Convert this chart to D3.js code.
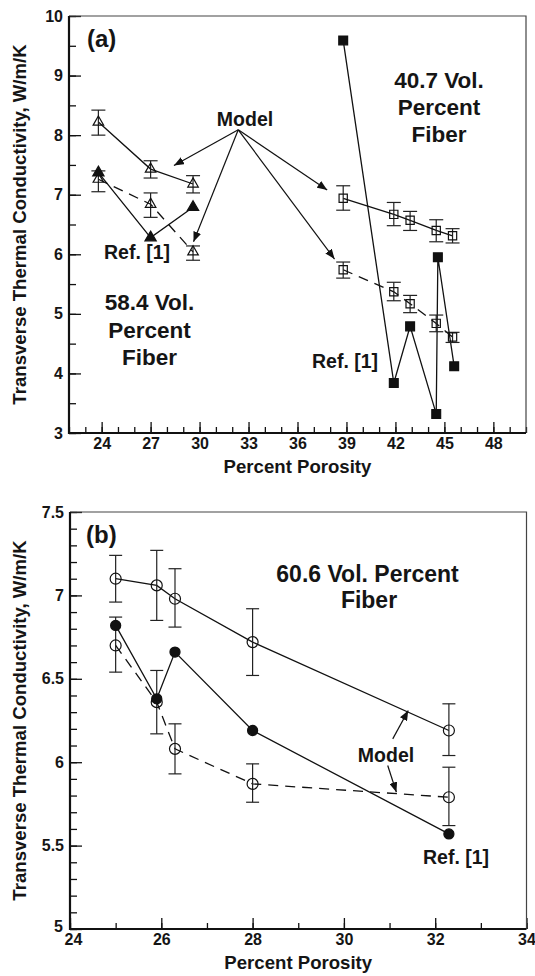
<!DOCTYPE html>
<html>
<head>
<meta charset="utf-8">
<script src="https://cdn.jsdelivr.net/npm/d3@7"></script>
<style>
  body { margin: 0; background: #fff; }
  text { font-family: "Liberation Sans", Arial, Helvetica, sans-serif; font-weight: bold; fill: #151515; }
</style>
</head>
<body>
<svg width="535" height="976"></svg>
<script>
// ---- panel (a): 58.4 vol. percent fiber
const poroA1 = [23.8, 27.0, 29.6];
const modelA1 = [8.22, 7.43, 7.18];
const modelA1Lo = [8.00, 7.28, 7.03];
const modelA1Hi = [8.42, 7.57, 7.32];
const modelA1d = [7.26, 6.84, 6.04];
const modelA1dLo = [7.05, 6.62, 5.90];
const modelA1dHi = [7.40, 7.03, 6.14];
const refA1 = [7.37, 6.28, 6.79];

// ---- panel (a): 40.7 vol. percent fiber
const poroA2 = [38.8, 41.9, 42.9, 44.5, 45.5];
const modelA2 = [6.94, 6.67, 6.57, 6.40, 6.31];
const modelA2Lo = [6.74, 6.48, 6.40, 6.21, 6.19];
const modelA2Hi = [7.15, 6.87, 6.72, 6.58, 6.43];
const modelA2d = [5.74, 5.37, 5.17, 4.84, 4.61];
const modelA2dLo = [5.60, 5.22, 5.02, 4.70, 4.52];
const modelA2dHi = [5.87, 5.53, 5.31, 4.98, 4.69];
const poroRefA2 = [38.8, 41.9, 42.9, 44.5, 44.6, 45.6];
const refA2 = [9.59, 3.84, 4.79, 3.32, 5.95, 4.12];

// ---- panel (b): 60.6 vol. percent fiber
const poroB = [25.0, 25.9, 26.3, 28.0, 32.3];
const modelB = [7.10, 7.06, 6.98, 6.72, 6.19];
const modelBLo = [6.96, 6.85, 6.81, 6.52, 6.04];
const modelBHi = [7.24, 7.27, 7.16, 6.92, 6.35];
const modelBd = [6.70, 6.36, 6.08, 5.87, 5.79];
const modelBdLo = [6.54, 6.17, 5.93, 5.76, 5.62];
const modelBdHi = [6.87, 6.55, 6.23, 5.99, 5.97];
const refB = [6.82, 6.38, 6.66, 6.19, 5.57];

// ticks
const xTicksA = [24, 27, 30, 33, 36, 39, 42, 45, 48];
const xMinorA = d3.range(22, 51, 1);
const yTicksA = [3, 4, 5, 6, 7, 8, 9, 10];
const yMinorA = d3.range(3, 10.01, 0.5);
const xTicksB = [24, 26, 28, 30, 32, 34];
const xMinorB = d3.range(24, 35, 1);
const yTicksB = [5, 5.5, 6, 6.5, 7, 7.5];
const yMinorB = d3.range(5, 7.51, 0.1);

// "Model" arrows, in data units: [fromX, fromY, toX, toY]
const arrowsA = [[32.37, 8.09, 28.43, 7.49], [32.37, 8.09, 29.63, 6.21],
                 [32.37, 8.09, 37.82, 7.08], [32.37, 8.09, 38.27, 5.92]];
const arrowsB = [[31.07, 6.14, 31.41, 6.31], [30.96, 5.98, 31.15, 5.82]];

const svg = d3.select("svg");

svg.append("defs").append("marker")
    .attr("id", "arrow")
    .attr("viewBox", "0 0 10 8")
    .attr("refX", 10).attr("refY", 4)
    .attr("markerWidth", 10).attr("markerHeight", 8)
    .attr("markerUnits", "userSpaceOnUse")
    .attr("orient", "auto")
  .append("path")
    .attr("d", "M0,0 L10,4 L0,8 Z")
    .attr("fill", "#111");

function drawAxes(x, y, xMajor, xMinor, yMajor, yMinor) {
    const [x0, x1] = x.range();
    const [y0, y1] = y.range();
    const g = svg.append("g");

    const ax = (axis) => g.append("g").call(axis)
        .call(s => s.select(".domain").remove())
        .call(s => s.selectAll("line").attr("stroke", "#111").attr("stroke-width", 1.3))
        .attr("font-size", 16);

    ax(d3.axisBottom(x).tickValues(xMinor).tickSize(-6).tickFormat(""))
        .attr("transform", `translate(0,${y0})`);
    const xa = ax(d3.axisBottom(x).tickValues(xMajor).tickSize(-11).tickPadding(5).tickFormat(d => d))
        .attr("transform", `translate(0,${y0})`);
    ax(d3.axisLeft(y).tickValues(yMinor).tickSize(-7).tickFormat(""))
        .attr("transform", `translate(${x0},0)`);
    const ya = ax(d3.axisLeft(y).tickValues(yMajor).tickSize(-12).tickPadding(6).tickFormat(d => d))
        .attr("transform", `translate(${x0},0)`);

    // frame: heavy left/bottom, light top/right
    g.append("path").attr("d", `M${x0},${y1}H${x1}V${y0}`)
        .attr("fill", "none").attr("stroke", "#444").attr("stroke-width", 1.2);
    g.append("path").attr("d", `M${x0},${y1}V${y0}H${x1}`)
        .attr("fill", "none").attr("stroke", "#111").attr("stroke-width", 2.2);

    g.append("text")
        .attr("transform", `translate(26,${(y0 + y1) / 2}) rotate(-90)`)
        .attr("text-anchor", "middle")
        .attr("font-size", 18.6)
        .text("Transverse Thermal Conductivity, W/m/K");
    g.append("text")
        .attr("x", (x0 + x1) / 2).attr("y", y0 + 40)
        .attr("text-anchor", "middle")
        .attr("font-size", 18.6)
        .text("Percent Porosity");
    return {xa, ya};
}

function drawLine(x, y, xs, ys, dashed) {
    const line = d3.line().x((d, i) => x(xs[i])).y(d => y(d));
    svg.append("path")
        .attr("d", line(ys))
        .attr("fill", "none")
        .attr("stroke", "#111")
        .attr("stroke-width", 1.3)
        .attr("stroke-dasharray", dashed ? "10,7" : null);
}

function drawErrors(x, y, xs, lo, hi, cap) {
    const g = svg.append("g").attr("stroke", "#222").attr("stroke-width", 1.2);
    xs.forEach((v, i) => {
        const cx = x(v);
        g.append("line").attr("x1", cx).attr("x2", cx).attr("y1", y(lo[i])).attr("y2", y(hi[i]));
        [lo[i], hi[i]].forEach(e => {
            g.append("line").attr("x1", cx - cap / 2).attr("x2", cx + cap / 2)
                .attr("y1", y(e)).attr("y2", y(e));
        });
    });
}

function drawSymbols(x, y, xs, ys, type, size, filled) {
    const sym = d3.symbol().type(type).size(size);
    svg.append("g").selectAll("path")
        .data(ys)
        .join("path")
        .attr("transform", (d, i) => `translate(${x(xs[i])},${y(d)})`)
        .attr("d", sym)
        .attr("fill", filled ? "#111" : "none")
        .attr("stroke", "#111")
        .attr("stroke-width", 1.2);
}

function drawArrows(x, y, arrows) {
    svg.append("g").selectAll("line")
        .data(arrows)
        .join("line")
        .attr("x1", d => x(d[0])).attr("y1", d => y(d[1]))
        .attr("x2", d => x(d[2])).attr("y2", d => y(d[3]))
        .attr("stroke", "#111")
        .attr("stroke-width", 1.2)
        .attr("marker-end", "url(#arrow)");
}

function label(txt, px, py, size, anchor) {
    svg.append("text")
        .attr("x", px).attr("y", py)
        .attr("font-size", size)
        .attr("text-anchor", anchor || "start")
        .text(txt);
}

// ================= panel (a)
const xA = d3.scaleLinear().domain([22, 50]).range([69, 526]);
const yA = d3.scaleLinear().domain([3, 10]).range([433, 16]);
drawAxes(xA, yA, xTicksA, xMinorA, yTicksA, yMinorA);

drawLine(xA, yA, poroA1, modelA1, false);
drawLine(xA, yA, poroA1, modelA1d, true);
drawLine(xA, yA, poroA1, refA1, false);
drawLine(xA, yA, poroA2, modelA2, false);
drawLine(xA, yA, poroA2, modelA2d, true);
drawLine(xA, yA, poroRefA2, refA2, false);

drawErrors(xA, yA, poroA1, modelA1Lo, modelA1Hi, 14);
drawErrors(xA, yA, poroA1, modelA1dLo, modelA1dHi, 14);
drawErrors(xA, yA, poroA2, modelA2Lo, modelA2Hi, 14);
drawErrors(xA, yA, poroA2, modelA2dLo, modelA2dHi, 14);

drawSymbols(xA, yA, poroA1, modelA1, d3.symbolTriangle, 48, false);
drawSymbols(xA, yA, poroA1, modelA1d, d3.symbolTriangle, 48, false);
drawSymbols(xA, yA, poroA1, refA1, d3.symbolTriangle, 55, true);
drawSymbols(xA, yA, poroA2, modelA2, d3.symbolSquare, 68, false);
drawSymbols(xA, yA, poroA2, modelA2d, d3.symbolSquare, 68, false);
drawSymbols(xA, yA, poroRefA2, refA2, d3.symbolSquare, 78, true);

drawArrows(xA, yA, arrowsA);

label("(a)", 87, 47, 24);
label("Model", 245, 126, 19.5, "middle");
label("40.7 Vol.", 439, 88, 22.5, "middle");
label("Percent", 439, 115, 22.5, "middle");
label("Fiber", 439, 142, 22.5, "middle");
label("Ref. [1]", 104, 259, 19.5);
label("58.4 Vol.", 149.5, 310, 22.5, "middle");
label("Percent", 149.5, 338, 22.5, "middle");
label("Fiber", 149.5, 365, 22.5, "middle");
label("Ref. [1]", 312, 368, 19.5);

// ================= panel (b)
const xB = d3.scaleLinear().domain([24, 34]).range([70, 526.5]);
const yB = d3.scaleLinear().domain([5, 7.5]).range([929, 512]);
const axB = drawAxes(xB, yB, xTicksB, xMinorB, yTicksB, yMinorB);
// the corner labels "5" and "24" sit close together
axB.xa.selectAll("text").filter(d => d === 24).attr("transform", "translate(3,0)");
axB.ya.selectAll("text").filter(d => d === 5).attr("transform", "translate(-1,-3)");

drawLine(xB, yB, poroB, modelB, false);
drawLine(xB, yB, poroB, modelBd, true);
drawLine(xB, yB, poroB, refB, false);

drawErrors(xB, yB, poroB, modelBLo, modelBHi, 13);
drawErrors(xB, yB, poroB, modelBdLo, modelBdHi, 13);

drawSymbols(xB, yB, poroB, modelB, d3.symbolCircle, 95, false);
drawSymbols(xB, yB, poroB, modelBd, d3.symbolCircle, 95, false);
drawSymbols(xB, yB, poroB, refB, d3.symbolCircle, 80, true);

drawArrows(xB, yB, arrowsB);

label("(b)", 86, 543, 24);
label("60.6 Vol. Percent", 367.5, 582, 23, "middle");
label("Fiber", 369, 608, 23, "middle");
label("Model", 386, 762, 19.5, "middle");
label("Ref. [1]", 423, 864, 19.5);
</script>
</body>
</html>
